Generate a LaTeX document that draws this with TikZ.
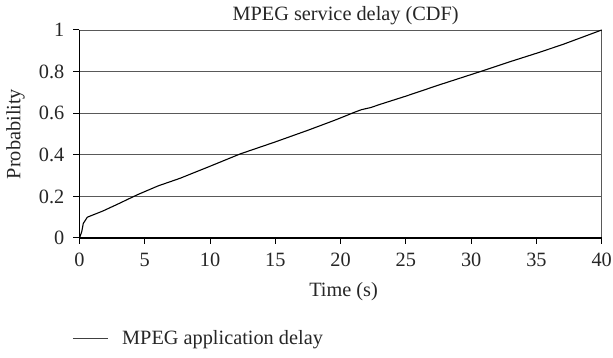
\documentclass[tikz,border=0pt]{standalone}
\usepackage{fontspec}
\setmainfont{Liberation Serif}
\begin{document}
\begin{tikzpicture}[x=13.055pt,y=208pt,
  lbl/.style={font=\fontsize{20.3}{23}\selectfont, text=black!85, inner sep=0pt},
  grid line/.style={draw=black!65, line width=0.9pt},
  axis line/.style={draw=black, line width=1.1pt},
  tick mark/.style={draw=black, line width=1pt},
  cdf/.style={draw=black, line width=1.1pt, line join=round},
  legline/.style={draw=black!75, line width=1pt}]
\useasboundingbox (-79.5pt,-120pt) rectangle (533.5pt,238pt);
% grid lines
\foreach \y in {0.2,0.4,0.6,0.8,1} \draw[grid line] (0,\y) -- (40,\y);
\draw[grid line] (40,0) -- (40,1);
% axes
\draw[axis line] (0,1) -- (0,0) -- (40,0);
% y ticks and labels
\foreach \y/\t in {0/0,0.2/0.2,0.4/0.4,0.6/0.6,0.8/0.8,1/1} {
  \draw[tick mark] (0,\y) -- ++(-6.5pt,0);
  \node[lbl, anchor=east] (yl\t) at ([xshift=-15pt]0,\y) {\t};
}
% x ticks and labels
\foreach \x in {0,5,...,40} {
  \draw[tick mark] (\x,0) -- ++(0,-6pt);
  \node[lbl, anchor=base] (xl\x) at ([yshift=-29pt]\x,0) {\x};
}
% titles
\node[lbl, anchor=base] (title) at ([xshift=5pt,yshift=9pt]20,1) {MPEG service delay (CDF)};
\node[lbl, anchor=base] (xlabel) at ([xshift=3pt,yshift=-59pt]20,0) {Time (s)};
\node[lbl, anchor=base, rotate=90] (ylabel) at ([xshift=-59pt]0,0.5) {Probability};
% curve
\draw[cdf] plot coordinates {(0,0) (0.17,0.03) (0.29,0.07) (0.6,0.1) (1.8,0.13) (3,0.165) (4.4,0.207)
 (6,0.25) (7.7,0.287) (10,0.345) (12.3,0.404) (15,0.462) (17.5,0.518) (19.5,0.565) (20.5,0.59) (21,0.603)
 (21.6,0.617) (22.3,0.627) (23,0.642) (25,0.682) (27.5,0.735) (30.7,0.8) (33,0.848) (35,0.888) (37,0.93)
 (38.5,0.965) (40,1.0)};
% legend
\coordinate (legA) at (-6.5pt,-101pt);
\coordinate (legB) at (28.5pt,-101pt);
\draw[legline] (legA) -- (legB);
\node[lbl, anchor=base west] (legtext) at (42.5pt,-107pt) {MPEG application delay};
\end{tikzpicture}
\end{document}
